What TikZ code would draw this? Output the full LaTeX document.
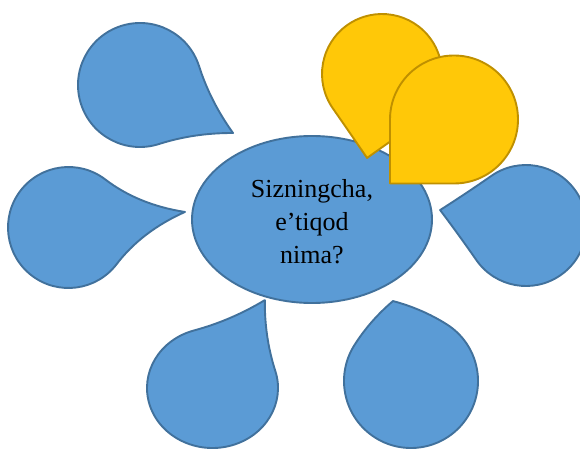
\documentclass[tikz,border=0pt]{standalone}
\usepackage{fontspec}
\setmainfont{Liberation Serif}
\usetikzlibrary{shapes.geometric}
\definecolor{dropblue}{HTML}{5B9BD5}
\definecolor{dropblueline}{HTML}{41719C}
\definecolor{dropgold}{HTML}{FFC808}
\definecolor{dropgoldline}{HTML}{BF9000}
\tikzset{
  bluedrop/.style={fill=dropblue, draw=dropblueline, line width=1.9pt, line join=round},
  golddrop/.style={fill=dropgold, draw=dropgoldline, line width=1.9pt, line join=round},
  centreoval/.style={ellipse, fill=dropblue, draw=dropblueline, line width=1.9pt,
    minimum width=240pt, minimum height=167pt, inner sep=0pt},
  questiontext/.style={align=center, inner sep=0pt, font=\fontsize{26}{33}\selectfont}
}
% #1 style, #2 #3 centre, #4 #5 radii, #6 rotation, #7 tip factor
\newcommand\tdrop[7]{%
  \begin{scope}[shift={(#2,#3)}, xscale=#4, yscale=#5, rotate=#6]
    \path[#1] (-1,0) arc[start angle=180,end angle=90,radius=1]
      .. controls ({#7/3},1) and ({2*#7/3},{#7/3+2/3}) .. (#7,#7)
      .. controls ({#7/3+2/3},{2*#7/3}) and (1,{#7/3}) .. (1,0)
      arc[start angle=0,end angle=-180,radius=1] -- cycle;
  \end{scope}}
\begin{document}
\begin{tikzpicture}[x=1pt,y=1pt]
\useasboundingbox (0,0) rectangle (580,450);
\node[centreoval] (centre) at (312,230.5) {};
\node[questiontext] (question) at (312,228) {Sizningcha,\\e’tiqod\\nima?};
% blue drops
\tdrop{bluedrop}{140}{365}{62}{62}{-72.3}{1.194}
\tdrop{bluedrop}{68.5}{222.5}{60.5}{60.5}{-37.4}{1.373}
\tdrop{bluedrop}{526}{224.5}{60.5}{60.5}{124.8}{1.02}
\tdrop{bluedrop}{212.5}{62}{65.5}{60}{16.4}{1.18}
\tdrop{bluedrop}{411}{69}{67}{67}{57.7}{0.865}
% gold drops
\tdrop{golddrop}{382}{376}{60}{60}{-145.1}{1.005}
\tdrop{golddrop}{454}{330.5}{64}{64}{180}{1}
\end{tikzpicture}
\end{document}
